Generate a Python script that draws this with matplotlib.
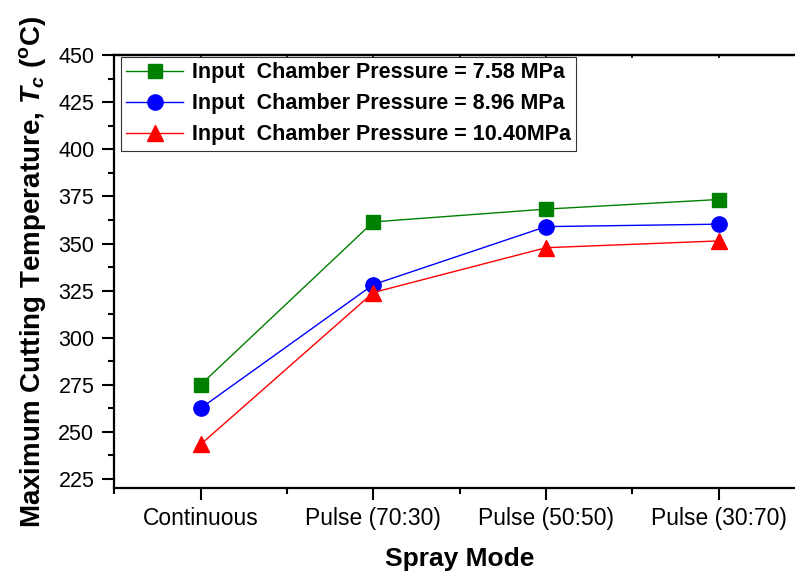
import matplotlib
matplotlib.use("Agg")
import matplotlib.pyplot as plt
from matplotlib.ticker import MultipleLocator

plt.rcParams['font.family'] = ['Liberation Sans', 'DejaVu Sans']
plt.rcParams['mathtext.fontset'] = 'custom'
plt.rcParams['mathtext.rm'] = 'Liberation Sans:bold'
plt.rcParams['mathtext.bf'] = 'Liberation Sans:bold'
plt.rcParams['mathtext.it'] = 'Liberation Sans:italic:bold'

categories = ["Continuous", "Pulse (70:30)", "Pulse (50:50)", "Pulse (30:70)"]
p758 = [275, 361.5, 368.3, 373.4]
p896 = [262.5, 328.2, 359.0, 360.3]
p1040 = [243.3, 324.0, 347.8, 351.4]
labels = ["Input  Chamber Pressure = 7.58 MPa",
          "Input  Chamber Pressure = 8.96 MPa",
          "Input  Chamber Pressure = 10.40MPa"]

W, H = 795, 573
fig = plt.figure(figsize=(W/100, H/100), dpi=100)
L, R, T, B = 114.3, 805.0, 55.3, 488.3
ax = fig.add_axes([L/W, 1 - B/H, (R - L)/W, (B - T)/H])

x = list(range(1, len(categories) + 1))
ax.plot(x, p758, '-s', color='#008000', lw=1.0, ms=9.5, label=labels[0])
ax.plot(x, p896, '-o', color='#0000FF', lw=1.0, ms=11, label=labels[1])
ax.plot(x, p1040, '-^', color='#FF0000', lw=1.0, ms=12, label=labels[2])

ax.set_xlim(0.5, 4.5)
ax.set_ylim(220, 450)
ax.set_xticks(x)
ax.set_xticklabels(categories)
ax.xaxis.set_minor_locator(MultipleLocator(0.5))
ax.yaxis.set_major_locator(MultipleLocator(25))
ax.yaxis.set_minor_locator(MultipleLocator(12.5))
ax.tick_params(which='major', direction='out', length=8.4, width=1.5, labelsize=15.5, pad=5)
ax.tick_params(which='minor', direction='out', length=4.3, width=1.5)
ax.tick_params(axis='x', which='major', labelsize=16.5, pad=5)
ax.tick_params(axis='y', which='major', pad=6)
for s in ax.spines.values():
    s.set_linewidth(1.6)

sec = ax.secondary_xaxis('top')
sec.set_xticks(x)
sec.set_xticklabels([])
sec.xaxis.set_minor_locator(MultipleLocator(0.5))
sec.tick_params(which='both', direction='in', length=2.5, width=1.2)
sec.spines['top'].set_linewidth(1.6)

ax.set_xlabel("Spray Mode", fontsize=19, fontweight='bold', labelpad=12)
ax.set_ylabel("Maximum Cutting Temperature, $T_c$ ($^{\\rm o}$C)", fontsize=20,
              fontweight='bold', labelpad=7)

leg = ax.legend(loc='upper left', bbox_to_anchor=(120.7/W, 1 - 56.7/H),
                bbox_transform=fig.transFigure, borderaxespad=0,
                prop={'weight': 'bold', 'size': 15.5}, handlelength=2.65,
                handletextpad=0.4, labelspacing=0.47, borderpad=0.25,
                fancybox=False, framealpha=1, edgecolor='#333333')
leg.get_frame().set_linewidth(0.8)

fig.savefig("out.png", dpi=100)
